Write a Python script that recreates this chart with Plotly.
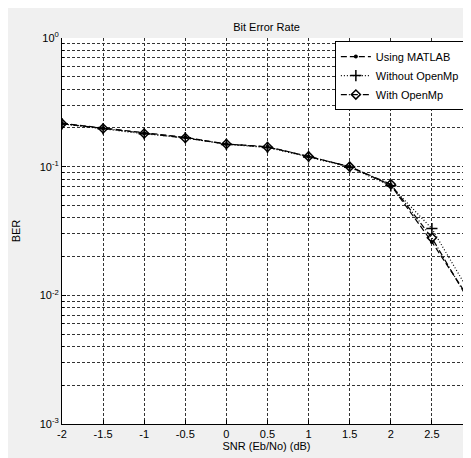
import plotly.graph_objects as go

snr = [-2, -1.5, -1, -0.5, 0, 0.5, 1, 1.5, 2, 2.5, 3]
ber_matlab = [0.217, 0.199, 0.182, 0.169, 0.150, 0.143, 0.120, 0.100, 0.072, 0.026, 0.0085]
ber_without = [0.215, 0.197, 0.180, 0.168, 0.149, 0.141, 0.119, 0.099, 0.071, 0.033, 0.0095]
ber_with = [0.216, 0.198, 0.181, 0.167, 0.150, 0.142, 0.120, 0.100, 0.073, 0.028, 0.0080]

x_ticks = [-2, -1.5, -1, -0.5, 0, 0.5, 1, 1.5, 2, 2.5]
x_ticktext = ["-2", "-1.5", "-1", "-0.5", "0", "0.5", "1", "1.5", "2", "2.5"]
y_ticks = [1, 0.1, 0.01, 0.001]
y_ticktext = ["10<sup>0</sup>", "10<sup>-1</sup>", "10<sup>-2</sup>", "10<sup>-3</sup>"]
y_minor = [m * d for d in [0.001, 0.01, 0.1] for m in range(2, 10)]

FONT = "Arial"

fig = go.Figure()
fig.add_trace(go.Scatter(
    x=snr, y=ber_matlab, name="Using MATLAB", mode="lines+markers",
    line=dict(color="black", width=1.2, dash="6px,3px"),
    marker=dict(symbol="circle", size=4, color="black"),
))
fig.add_trace(go.Scatter(
    x=snr, y=ber_without, name="Without OpenMp", mode="lines+markers",
    line=dict(color="black", width=1.2, dash="1px,2px"),
    marker=dict(symbol="cross-thin", size=8, color="black",
                line=dict(color="black", width=1.5)),
))
fig.add_trace(go.Scatter(
    x=snr, y=ber_with, name="With OpenMp", mode="lines+markers",
    line=dict(color="black", width=1.2, dash="6px,2px,1px,2px"),
    marker=dict(symbol="diamond-open", size=7, color="black",
                line=dict(color="black", width=1.5)),
))

grid_color = "#333333"
fig.update_xaxes(
    automargin=False,
    range=[-2, 2.976], tickvals=x_ticks, ticktext=x_ticktext,
    showgrid=True, gridcolor=grid_color, griddash="3px,2px", gridwidth=1,
    showline=True, linecolor="black", linewidth=1, mirror=False,
    ticks="inside", ticklen=4, tickcolor="black", zeroline=False,
    title=dict(text="SNR (Eb/No) (dB)", standoff=1, font=dict(size=11, family=FONT, color="black")),
    tickfont=dict(size=11, family=FONT, color="black"),
)
fig.update_yaxes(
    automargin=False,
    type="log", range=[-3, 0], tickvals=y_ticks, ticktext=y_ticktext,
    showgrid=True, gridcolor=grid_color, griddash="3px,2px", gridwidth=1,
    minor=dict(tickvals=y_minor, showgrid=True, gridcolor=grid_color,
               griddash="3px,2px", gridwidth=1, ticks="inside", ticklen=2, tickcolor="black"),
    showline=True, linecolor="black", linewidth=1, mirror=False,
    ticks="inside", ticklen=4, tickcolor="black", zeroline=False,
    title=dict(text="BER", standoff=16, font=dict(size=11, family=FONT, color="black")),
    tickfont=dict(size=11, family=FONT, color="black"),
)

fig.update_layout(
    template="none",
    width=463, height=450,
    margin=dict(l=54, r=0, t=30, b=34, autoexpand=False),
    paper_bgcolor="#f0f0f0", plot_bgcolor="white",
    font=dict(family=FONT, size=11, color="black"),
    title=dict(text="Bit Error Rate", x=0.5, xref="paper", xanchor="center",
               y=1 - 19 / 450, yanchor="middle", font=dict(size=11, family=FONT, color="black")),
    legend=dict(x=0.985, y=0.992, xanchor="right", yanchor="top",
                bgcolor="white", bordercolor="black", borderwidth=1,
                font=dict(size=11, family=FONT, color="black"),
                tracegroupgap=0, itemwidth=30),
    showlegend=True,
)

fig.write_html("out.html")
